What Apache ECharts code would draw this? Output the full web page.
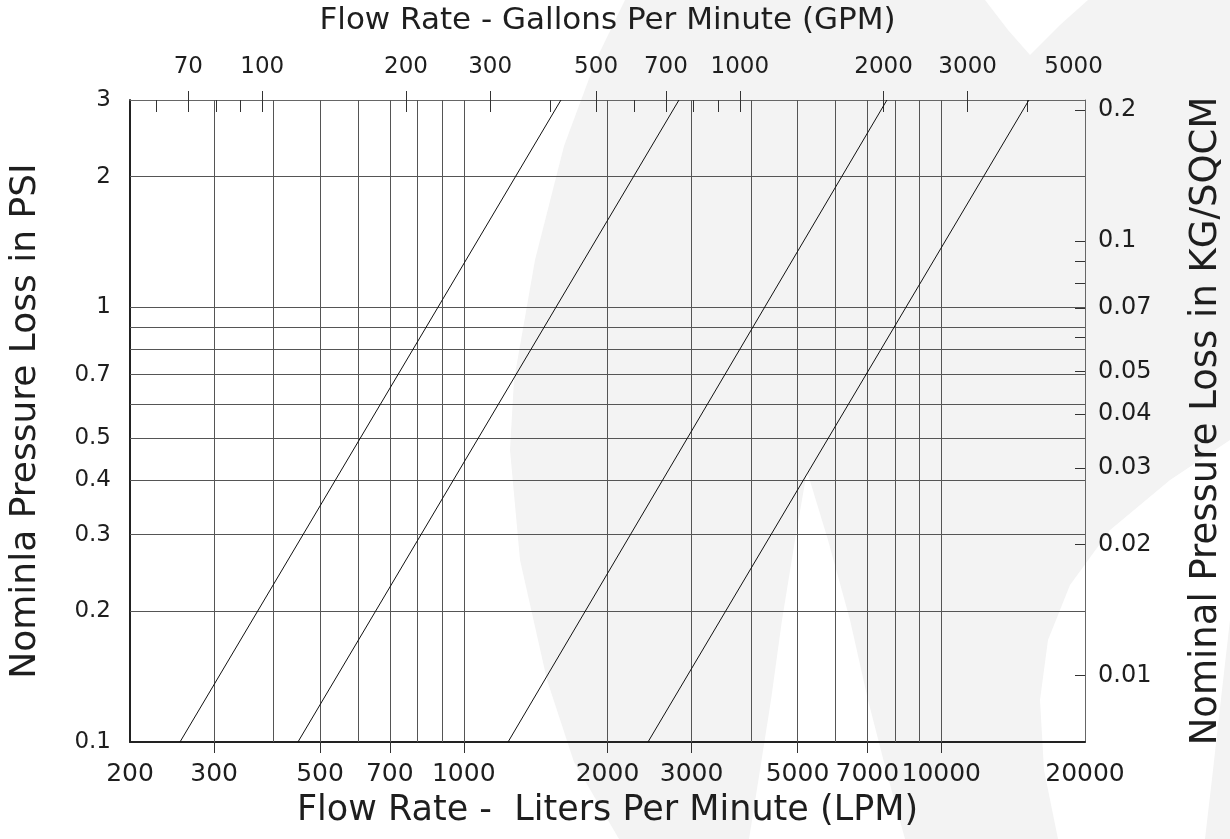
<!DOCTYPE html>
<html>
<head>
<meta charset="utf-8">
<script src="https://cdn.jsdelivr.net/npm/echarts@6/dist/echarts.min.js"></script>
<style>
html,body{margin:0;padding:0;background:#fff;}
#chart{width:1230px;height:839px;}
</style>
</head>
<body>
<div id="chart"></div>
<script>
// ---------- data ----------
const lpmRange = [200, 20000];
const psiRange = [0.1, 3];
const LITERS_PER_GALLON = 3.78541;
const KG_PER_PSI = 0.070307;

const lpmLabels = [200, 300, 500, 700, 1000, 2000, 3000, 5000, 7000, 10000, 20000];
const lpmTicks = [300, 500, 700, 1000, 2000, 3000, 5000, 7000, 10000];
const lpmGrid = [300, 400, 500, 600, 700, 800, 900, 1000, 2000, 3000, 4000, 5000, 6000, 7000, 8000, 9000, 10000];

const psiLabels = [0.1, 0.2, 0.3, 0.4, 0.5, 0.7, 1, 2, 3];
const psiGrid = [0.2, 0.3, 0.4, 0.5, 0.6, 0.7, 0.8, 0.9, 1, 2];

const gpmLabels = [70, 100, 200, 300, 500, 700, 1000, 2000, 3000, 5000];
const gpmMajorTicks = [70, 100, 200, 300, 500, 700, 1000, 2000, 3000];
const gpmMinorTicks = [60, 70, 80, 90, 100, 200, 300, 400, 500, 600, 700, 800, 900, 1000, 2000, 3000, 4000];

const kgLabels = [0.01, 0.02, 0.03, 0.04, 0.05, 0.07, 0.1, 0.2];
const kgTicks = [0.01, 0.02, 0.03, 0.04, 0.05, 0.06, 0.07, 0.08, 0.09, 0.1, 0.2];

// pressure-loss curves: [LPM, PSI]
const curve1 = [[254.5, 0.1], [1598, 3]];
const curve2 = [[449.5, 0.1], [2823, 3]];
const curve3 = [[1238, 0.1], [7696, 3]];
const curve4 = [[2431, 0.1], [15264, 3]];

const titleTop = 'Flow Rate - Gallons Per Minute (GPM)';
const titleBottom = 'Flow Rate -  Liters Per Minute (LPM)';
const titleLeft = 'Nominla Pressure Loss in PSI';
const titleRight = 'Nominal Pressure Loss in KG/SQCM';

// ---------- decoration (background watermark) ----------
const wmGray = [[625,0],[596,60],[564,146],[535,260],[514,380],[510,450],[520,560],[547,680],[574,762],[619,839],[1230,839],[1230,0]];
const wmWhite1 = [[807,471],[795,540],[782,620],[771,700],[760,770],[749,839],[905,839],[886,770],[868,700],[850,620],[828,540]];
const wmWhite2 = [[1230,440],[1170,480],[1110,530],[1070,585],[1048,640],[1040,700],[1044,770],[1058,839],[1205,839],[1213,770],[1222,690],[1230,620]];
const wmWhite3 = [[985,0],[1088,0],[1060,25],[1030,55],[1008,30]];

const FONT = '"DejaVu Sans", Inter, sans-serif';
const TXT = '#1e1e1e';
const fmt = v => String(v);

const chart = echarts.init(document.getElementById('chart'), null, {renderer: 'canvas'});

const lineSeries = (data) => ({
  type: 'line', xAxisIndex: 0, yAxisIndex: 0, data: data,
  symbol: 'none', showSymbol: false, silent: true,
  lineStyle: {color: '#111', width: 1}, z: 5
});

chart.setOption({
  backgroundColor: '#ffffff',
  animation: false,
  graphic: {elements: [
    {type: 'polygon', silent: true, z: -10, shape: {points: wmGray}, style: {fill: '#f3f3f3'}},
    {type: 'polygon', silent: true, z: -9, shape: {points: wmWhite1}, style: {fill: '#ffffff'}},
    {type: 'polygon', silent: true, z: -9, shape: {points: wmWhite2}, style: {fill: '#ffffff'}},
    {type: 'polygon', silent: true, z: -9, shape: {points: wmWhite3}, style: {fill: '#ffffff'}}
  ]},
  grid: {left: 130, right: 145, top: 100, bottom: 97, containLabel: false, outerBoundsMode: 'none', show: false},
  xAxis: [
    { // bottom LPM
      type: 'log', logBase: 10, min: lpmRange[0], max: lpmRange[1], position: 'bottom',
      name: titleBottom, nameLocation: 'middle', nameGap: 51,
      nameTextStyle: {fontSize: 35, color: TXT, fontFamily: FONT},
      axisLine: {show: true, onZero: false, lineStyle: {color: '#222', width: 2}},
      axisTick: {show: true, inside: false, length: 11, customValues: lpmTicks, lineStyle: {color: '#333', width: 1}},
      axisLabel: {show: true, customValues: lpmLabels, formatter: fmt, fontSize: 25, color: TXT, fontFamily: FONT, margin: 20},
      splitLine: {show: false}, minorTick: {show: false}, minorSplitLine: {show: false}
    },
    { // top GPM
      type: 'log', logBase: 10, min: lpmRange[0] / LITERS_PER_GALLON, max: lpmRange[1] / LITERS_PER_GALLON, position: 'top',
      name: titleTop, nameLocation: 'middle', nameGap: 64,
      nameTextStyle: {fontSize: 31, color: TXT, fontFamily: FONT},
      axisLine: {show: true, onZero: false, lineStyle: {color: '#666', width: 1}},
      axisTick: {show: true, inside: false, length: 9, customValues: gpmMajorTicks, lineStyle: {color: '#333', width: 1}},
      axisLabel: {show: true, customValues: gpmLabels, formatter: fmt, fontSize: 23, color: TXT, fontFamily: FONT, margin: 21},
      splitLine: {show: false}
    },
    { // top GPM inner ticks
      type: 'log', logBase: 10, min: lpmRange[0] / LITERS_PER_GALLON, max: lpmRange[1] / LITERS_PER_GALLON, position: 'top',
      axisLine: {show: false, onZero: false},
      axisTick: {show: true, inside: true, length: 12, customValues: gpmMinorTicks, lineStyle: {color: '#333', width: 1}},
      axisLabel: {show: false}, splitLine: {show: false}
    },
    { // LPM grid lines
      type: 'log', logBase: 10, min: lpmRange[0], max: lpmRange[1], position: 'bottom',
      axisLine: {show: false, onZero: false},
      axisTick: {show: true, inside: true, length: 642, customValues: lpmGrid, lineStyle: {color: '#555', width: 1}},
      axisLabel: {show: false}, splitLine: {show: false}
    }
  ],
  yAxis: [
    { // left PSI
      type: 'log', logBase: 10, min: psiRange[0], max: psiRange[1], position: 'left',
      name: titleLeft, nameLocation: 'middle', nameGap: 86, nameRotate: 90,
      nameTextStyle: {fontSize: 36, color: TXT, fontFamily: FONT},
      axisLine: {show: true, onZero: false, lineStyle: {color: '#222', width: 2}},
      axisTick: {show: false},
      axisLabel: {show: true, customValues: psiLabels, formatter: fmt, fontSize: 23, color: TXT, fontFamily: FONT, margin: 19},
      splitLine: {show: false}
    },
    { // right KG/SQCM
      type: 'log', logBase: 10, min: psiRange[0] * KG_PER_PSI, max: psiRange[1] * KG_PER_PSI, position: 'right',
      name: titleRight, nameLocation: 'middle', nameGap: 103, nameRotate: 90,
      nameTextStyle: {fontSize: 37, color: TXT, fontFamily: FONT},
      axisLine: {show: true, onZero: false, lineStyle: {color: '#666', width: 1}},
      axisTick: {show: true, inside: true, length: 10, customValues: kgTicks, lineStyle: {color: '#333', width: 1}},
      axisLabel: {show: true, customValues: kgLabels, formatter: fmt, fontSize: 24, color: TXT, fontFamily: FONT, margin: 13},
      splitLine: {show: false}
    },
    { // PSI grid lines
      type: 'log', logBase: 10, min: psiRange[0], max: psiRange[1], position: 'left',
      axisLine: {show: false, onZero: false},
      axisTick: {show: true, inside: true, length: 955, customValues: psiGrid, lineStyle: {color: '#555', width: 1}},
      axisLabel: {show: false}, splitLine: {show: false}
    }
  ],
  series: [lineSeries(curve1), lineSeries(curve2), lineSeries(curve3), lineSeries(curve4)]
});
</script>
</body>
</html>
